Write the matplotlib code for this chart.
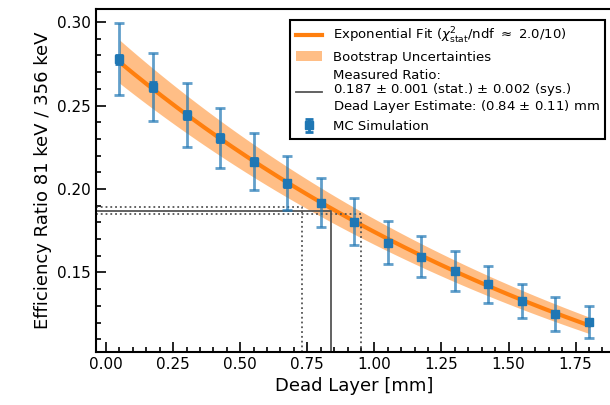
import numpy as np
import matplotlib
matplotlib.use("Agg")
import matplotlib.pyplot as plt
from matplotlib.ticker import MultipleLocator

# MC simulation: dead layer thickness vs. efficiency ratio 81 keV / 356 keV
dead_layer = [0.05, 0.175, 0.3, 0.425, 0.55, 0.675, 0.8, 0.925,
              1.05, 1.175, 1.3, 1.425, 1.55, 1.675, 1.8]
ratio = [0.2777, 0.2613, 0.2443, 0.2304, 0.2163, 0.2034, 0.1918, 0.1804,
         0.1679, 0.1595, 0.1509, 0.1429, 0.1329, 0.1250, 0.1202]
# total (sys.) uncertainty of the simulated ratios
ratio_err_sys = [0.0217, 0.0204, 0.0193, 0.0180, 0.0170, 0.0162, 0.0148, 0.0140,
                 0.0130, 0.0124, 0.0119, 0.0111, 0.0104, 0.0101, 0.0095]
# statistical uncertainty of the simulated ratios
ratio_err_stat = [0.0028, 0.0026, 0.0025, 0.0023, 0.0022, 0.0021, 0.0019, 0.0018,
                  0.0017, 0.0016, 0.0015, 0.0014, 0.0013, 0.0013, 0.0012]

# measured ratio and the derived dead layer
measured_ratio = 0.187
measured_err_stat = 0.001
measured_err_sys = 0.002
dl_estimate = 0.84
dl_err = 0.11

# bootstrap envelope as offsets on ln(A) and on the slope b
boot_dlnA = 0.047
boot_db = -0.003
chi2_ndf = "2.0/10"

x = np.array(dead_layer)
y = np.array(ratio)

# exponential fit y = A * exp(-b x), done in log space
slope, intercept = np.polyfit(x, np.log(y), 1, w=y / np.array(ratio_err_sys))
xf = np.linspace(x.min(), x.max(), 300)
yf = np.exp(intercept + slope * xf)
y_up = np.exp(intercept + boot_dlnA + (slope + boot_db) * xf)
y_lo = np.exp(intercept - boot_dlnA + (slope - boot_db) * xf)

fig = plt.figure(figsize=(6.1, 4.05), dpi=100)
ax = fig.add_axes([0.1574, 0.1309, 0.8467, 0.8469])

ax.fill_between(xf, y_lo, y_up, color="tab:orange", alpha=0.5, lw=0,
                label="Bootstrap Uncertainties")
ax.plot(xf, yf, color="tab:orange", lw=3,
        label=r"Exponential Fit ($\chi^2_{\mathrm{stat}}$/ndf $\approx$ " + chi2_ndf + ")")

err_tot = np.sqrt(measured_err_stat**2 + measured_err_sys**2)
xmin_ax = -0.0375
ymin_ax = 0.1024
lc = "#555555"
ax.plot([xmin_ax, dl_estimate, dl_estimate], [measured_ratio, measured_ratio, ymin_ax],
        color=lc, lw=1.3,
        label="Measured Ratio:\n"
              f"{measured_ratio:.3f} $\\pm$ {measured_err_stat:.3f} (stat.) $\\pm$ {measured_err_sys:.3f} (sys.)\n"
              f"Dead Layer Estimate: ({dl_estimate:.2f} $\\pm$ {dl_err:.2f}) mm")
ax.plot([xmin_ax, dl_estimate - dl_err, dl_estimate - dl_err],
        [measured_ratio + err_tot, measured_ratio + err_tot, ymin_ax],
        color=lc, lw=1.3, ls=":")
ax.plot([xmin_ax, dl_estimate + dl_err, dl_estimate + dl_err],
        [measured_ratio - err_tot, measured_ratio - err_tot, ymin_ax],
        color=lc, lw=1.3, ls=":")

ax.errorbar(x, y, yerr=ratio_err_sys, fmt="none", ecolor="tab:blue", alpha=0.7,
            elinewidth=2, capsize=3.6, capthick=2)
ax.errorbar(x, y, yerr=ratio_err_stat, fmt="s", color="tab:blue", ms=5.5,
            elinewidth=2, capsize=3, capthick=2, label="MC Simulation")

ax.set_xlim(xmin_ax, 1.8875)
ax.set_ylim(ymin_ax, 0.3078)
ax.xaxis.set_major_locator(MultipleLocator(0.25))
ax.xaxis.set_minor_locator(MultipleLocator(0.05))
ax.yaxis.set_major_locator(MultipleLocator(0.05))
ax.yaxis.set_minor_locator(MultipleLocator(0.01))
ax.xaxis.set_major_formatter(matplotlib.ticker.FormatStrFormatter("%.2f"))
ax.yaxis.set_major_formatter(matplotlib.ticker.FormatStrFormatter("%.2f"))
ax.tick_params(which="both", direction="in", width=1.2, labelsize=11)
ax.tick_params(which="major", length=7)
ax.tick_params(which="minor", length=3.5)
for s in ax.spines.values():
    s.set_linewidth(1.5)

ax.set_xlabel("Dead Layer [mm]", fontsize=13)
ax.set_ylabel("Efficiency Ratio 81 keV / 356 keV", fontsize=13)

handles, labels = ax.get_legend_handles_labels()
order = [1, 0, 2, 3]
leg = ax.legend([handles[i] for i in order], [labels[i] for i in order],
                loc="upper right", bbox_to_anchor=(0.9918, 0.9506),
                bbox_transform=fig.transFigure, borderaxespad=0,
                fontsize=9.5, labelspacing=0.38, borderpad=0.42,
                fancybox=False, framealpha=1, edgecolor="black")
leg.get_frame().set_linewidth(1.5)
for t in leg.get_texts():
    t.set_linespacing(0.97)

fig.savefig("out.png", dpi=100)
